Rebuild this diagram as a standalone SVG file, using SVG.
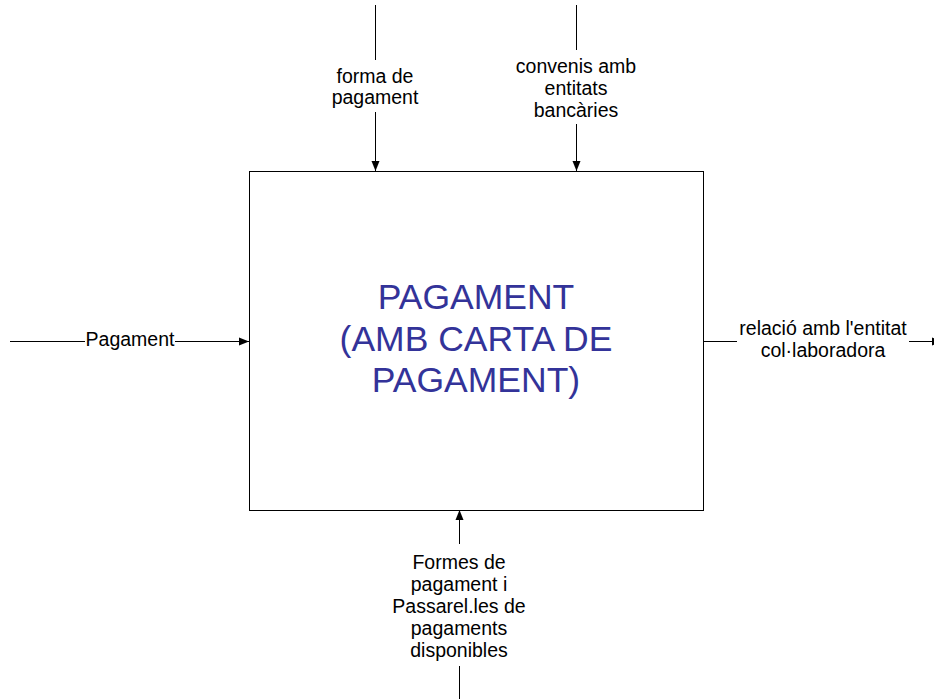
<svg xmlns="http://www.w3.org/2000/svg" width="934" height="699" viewBox="0 0 934 699">
<style>
.ln{stroke:#000;stroke-width:1;fill:none}
.lb{font-family:"Liberation Sans",Arial,sans-serif;font-size:19.5px;fill:#000;text-anchor:middle}
.tt{font-family:"Liberation Sans",Arial,sans-serif;font-size:35.5px;fill:#333399;text-anchor:middle}
</style>
<defs>
<marker id="ah" markerWidth="10" markerHeight="10" refX="10" refY="5" orient="auto" markerUnits="userSpaceOnUse">
<path d="M0,1 L10,5 L0,9 Z" fill="#000"/>
</marker>
</defs>
<rect width="934" height="699" fill="#fff"/>
<g id="node-pagament">
<rect x="249.5" y="171.5" width="454" height="339" fill="#fff" stroke="#000" stroke-width="1"/>
<text class="tt" x="476" y="309">PAGAMENT</text>
<text class="tt" x="476" y="351">(AMB CARTA DE</text>
<text class="tt" x="476" y="392">PAGAMENT)</text>
</g>
<g id="connectors">
<path class="ln" d="M375.5,5 V60"/>
<path class="ln" d="M375.5,112 V171" marker-end="url(#ah)"/>
<path class="ln" d="M576.5,5 V50"/>
<path class="ln" d="M576.5,124 V171" marker-end="url(#ah)"/>
<path class="ln" d="M10,341.5 H85"/>
<path class="ln" d="M175,341.5 H249" marker-end="url(#ah)"/>
<path class="ln" d="M703,341.5 H737"/>
<path class="ln" d="M909,341.5 H942" marker-end="url(#ah)"/>
<path class="ln" d="M459.5,544 V510" marker-end="url(#ah)"/>
<path class="ln" d="M459.5,699 V666"/>
</g>
<g id="labels">
<text class="lb" x="375" y="82.5">forma de</text>
<text class="lb" x="375" y="104">pagament</text>
<text class="lb" x="576" y="73">convenis amb</text>
<text class="lb" x="576" y="95">entitats</text>
<text class="lb" x="576" y="117">bancàries</text>
<text class="lb" x="130" y="346">Pagament</text>
<text class="lb" x="823" y="335">relació amb l'entitat</text>
<text class="lb" x="823" y="357">col·laboradora</text>
<text class="lb" x="459" y="569">Formes de</text>
<text class="lb" x="459" y="591">pagament i</text>
<text class="lb" x="459" y="613">Passarel.les de</text>
<text class="lb" x="459" y="635">pagaments</text>
<text class="lb" x="459" y="657">disponibles</text>
</g>
</svg>
